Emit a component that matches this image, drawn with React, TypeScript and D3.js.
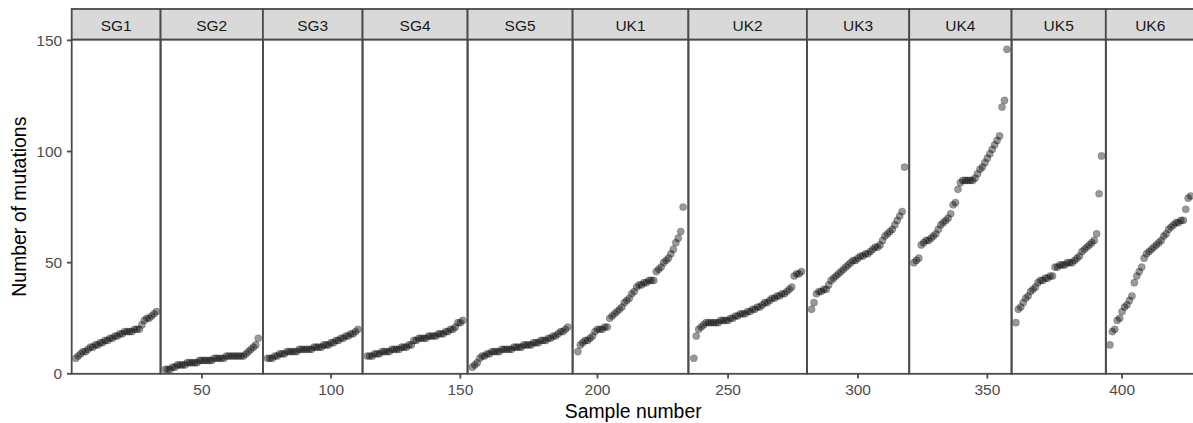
import React from "react";
import * as d3 from "d3";

// Facet groups, in display order
const groups = ["SG1", "SG2", "SG3", "SG4", "SG5", "UK1", "UK2", "UK3", "UK4", "UK5", "UK6"];

// Number of mutations per sample, sorted within each group
const sg1 = [7, 8, 9, 10, 10, 11, 12, 12, 13, 13, 14, 14, 15, 15, 16, 16, 17, 17, 18, 18, 19, 19, 19, 19, 20, 20, 20, 22, 24, 25, 25, 26, 27, 28];
const sg2 = [2, 2, 2, 3, 3, 4, 4, 4, 4, 5, 5, 5, 5, 5, 6, 6, 6, 6, 6, 6, 7, 7, 7, 7, 7, 8, 8, 8, 8, 8, 8, 8, 8, 9, 10, 11, 12, 13, 16];
const sg3 = [7, 7, 7, 8, 8, 9, 9, 9, 10, 10, 10, 10, 10, 11, 11, 11, 11, 11, 11, 12, 12, 12, 12, 13, 13, 13, 14, 14, 15, 15, 16, 16, 17, 17, 18, 18, 19, 20];
const sg4 = [8, 8, 8, 9, 9, 9, 10, 10, 10, 10, 11, 11, 11, 11, 12, 12, 12, 13, 13, 15, 15, 16, 16, 16, 16, 17, 17, 17, 17, 18, 18, 18, 19, 19, 20, 20, 21, 23, 23, 24];
const sg5 = [3, 4, 5, 7, 8, 8, 9, 9, 10, 10, 10, 10, 11, 11, 11, 11, 11, 12, 12, 12, 12, 13, 13, 13, 13, 14, 14, 14, 15, 15, 15, 16, 16, 17, 17, 18, 19, 19, 20, 21];
const uk1 = [10, 13, 14, 15, 15, 16, 17, 19, 20, 20, 20, 21, 21, 25, 26, 27, 28, 29, 30, 32, 33, 34, 36, 37, 39, 40, 40, 41, 41, 42, 42, 42, 46, 47, 48, 50, 51, 52, 54, 56, 59, 61, 64, 75];
const uk2 = [7, 17, 20, 21, 22, 23, 23, 23, 23, 23, 23, 24, 24, 24, 24, 25, 25, 26, 26, 27, 27, 27, 28, 28, 29, 29, 30, 30, 31, 32, 32, 33, 34, 34, 35, 35, 36, 36, 37, 38, 39, 44, 45, 45, 46];
const uk3 = [29, 32, 36, 37, 37, 38, 38, 40, 42, 43, 44, 45, 46, 47, 48, 49, 50, 51, 51, 52, 53, 53, 54, 54, 55, 56, 57, 57, 58, 60, 62, 63, 64, 65, 67, 69, 71, 73, 93];
const uk4 = [50, 51, 52, 58, 59, 60, 60, 61, 62, 63, 65, 67, 68, 69, 70, 72, 76, 77, 83, 86, 87, 87, 87, 87, 87, 88, 90, 92, 93, 95, 97, 99, 101, 103, 105, 107, 120, 123, 146];
const uk5 = [23, 29, 30, 32, 34, 35, 37, 38, 39, 41, 42, 42, 43, 43, 44, 44, 48, 48, 49, 49, 49, 50, 50, 50, 51, 52, 53, 55, 56, 57, 58, 59, 60, 63, 81, 98];
const uk6 = [13, 19, 20, 24, 25, 28, 30, 31, 33, 35, 41, 44, 46, 48, 52, 54, 55, 56, 57, 58, 59, 60, 62, 63, 65, 66, 67, 68, 68, 69, 69, 74, 79, 80];

const mutationsByGroup = [sg1, sg2, sg3, sg4, sg5, uk1, uk2, uk3, uk4, uk5, uk6];

const xTickValues = [50, 100, 150, 200, 250, 300, 350, 400];
const yTickValues = [0, 50, 100, 150];

const WIDTH = 1193;
const HEIGHT = 423;
const PLOT_LEFT = 71.7;
const PLOT_RIGHT = 1194.7;
const PLOT_TOP = 39.5;
const PLOT_BOTTOM = 373.8;
const STRIP_TOP = 9;
const FONT = "'Liberation Sans', Arial, Helvetica, sans-serif";
const BORDER = "#4a4a4a";

export default function App() {
  // Sample numbers run consecutively across groups; each panel gets its own
  // x range padded by 5% on either side, and panel width follows that range.
  let next = 1;
  const spans = mutationsByGroup.map((vals, i) => {
    const first = next;
    const last = next + vals.length - 1;
    next = last + 1;
    const pad = 0.05 * (last - first);
    return { name: groups[i], vals, first, lo: first - pad, hi: last + pad };
  });
  const totalUnits = d3.sum(spans, (s) => s.hi - s.lo);
  const pxPerUnit = (PLOT_RIGHT - PLOT_LEFT) / totalUnits;
  let cursor = PLOT_LEFT;
  const panels = spans.map((s) => {
    const w = (s.hi - s.lo) * pxPerUnit;
    const x = d3.scaleLinear().domain([s.lo, s.hi]).range([cursor, cursor + w]);
    cursor += w;
    return { ...s, x, x0: cursor - w, w };
  });

  const y = d3.scaleLinear().domain([0, 150.4]).range([PLOT_BOTTOM, PLOT_TOP]);

  return (
    <svg
      width={WIDTH}
      height={HEIGHT}
      style={{ position: "absolute", left: 0, top: 0, background: "#fff" }}
      fontFamily={FONT}
    >
      <rect x={0} y={0} width={WIDTH} height={HEIGHT} fill="#fff" />

      {/* points */}
      {panels.map((p) => (
        <g key={`pts-${p.name}`}>
          {p.vals.map((v, j) => (
            <circle
              key={j}
              cx={p.x(p.first + j)}
              cy={y(v)}
              r={3.6}
              fill="#000"
              fillOpacity={0.4}
              stroke="#000"
              strokeOpacity={0.22}
              strokeWidth={0.8}
            />
          ))}
        </g>
      ))}

      {/* panel borders and strips */}
      {panels.map((p) => (
        <g key={`panel-${p.name}`}>
          <rect
            x={p.x0}
            y={PLOT_TOP}
            width={p.w}
            height={PLOT_BOTTOM - PLOT_TOP}
            fill="none"
            stroke={BORDER}
            strokeWidth={1.8}
          />
          <rect
            x={p.x0}
            y={STRIP_TOP}
            width={p.w}
            height={PLOT_TOP - STRIP_TOP}
            fill="#D9D9D9"
            stroke={BORDER}
            strokeWidth={1.8}
          />
          <text
            x={p.x0 + p.w / 2}
            y={30.5}
            textAnchor="middle"
            fontSize={15.5}
            fill="#1A1A1A"
          >
            {p.name}
          </text>
        </g>
      ))}

      {/* x axis ticks, each drawn in the panel whose range holds it */}
      {xTickValues.map((t) => {
        const p = panels.find((q) => t >= q.lo && t <= q.hi);
        if (!p) return null;
        const xp = p.x(t);
        return (
          <g key={`xt-${t}`}>
            <line x1={xp} x2={xp} y1={PLOT_BOTTOM} y2={PLOT_BOTTOM + 4.8} stroke={BORDER} strokeWidth={1.8} />
            <text x={xp} y={395} textAnchor="middle" fontSize={15.5} fill="#4D4D4D">
              {t}
            </text>
          </g>
        );
      })}

      {/* y axis ticks */}
      {yTickValues.map((t) => (
        <g key={`yt-${t}`}>
          <line x1={PLOT_LEFT - 4.8} x2={PLOT_LEFT} y1={y(t)} y2={y(t)} stroke={BORDER} strokeWidth={1.8} />
          <text
            x={PLOT_LEFT - 9.5}
            y={y(t)}
            dy="0.36em"
            textAnchor="end"
            fontSize={15.5}
            fill="#4D4D4D"
          >
            {t}
          </text>
        </g>
      ))}

      {/* axis titles */}
      <text
        x={(PLOT_LEFT + PLOT_RIGHT) / 2}
        y={418}
        textAnchor="middle"
        fontSize={19.4}
        fill="#000"
      >
        Sample number
      </text>
      <text
        transform={`translate(26,${(PLOT_TOP + PLOT_BOTTOM) / 2}) rotate(-90)`}
        textAnchor="middle"
        fontSize={19.4}
        fill="#000"
      >
        Number of mutations
      </text>
    </svg>
  );
}
